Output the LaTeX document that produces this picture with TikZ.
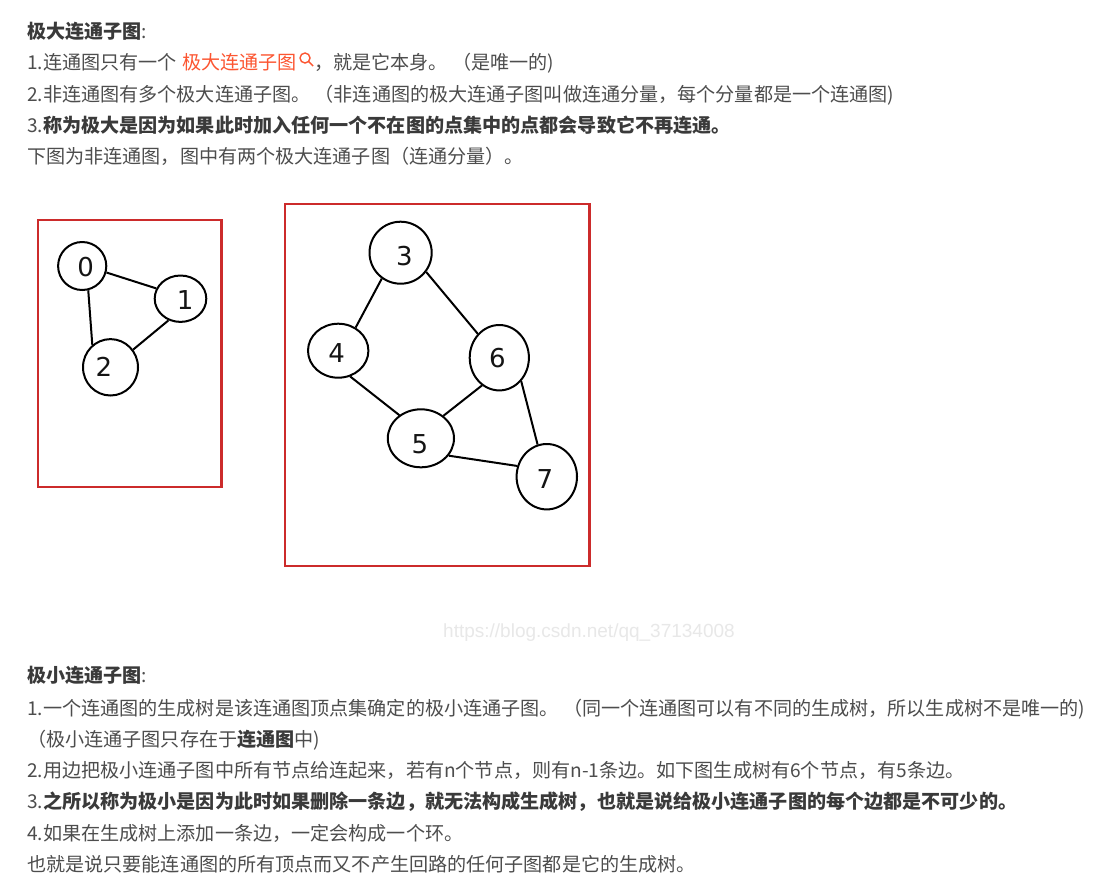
\documentclass[tikz,border=0pt]{standalone}
\usepackage{fontspec}
\setmainfont{Noto Sans CJK SC}
\newfontfamily\digitfont{DejaVu Sans}
\newfontfamily\wmfont{Liberation Sans}
\usetikzlibrary{shapes.geometric}
\definecolor{txt}{HTML}{4D4D4D}
\definecolor{boldtxt}{HTML}{3A3A3A}
\definecolor{linkred}{HTML}{FC5531}
\definecolor{boxred}{HTML}{CC2B2B}
\definecolor{wmgray}{HTML}{E8E8E8}
\newcommand\bt[1]{{\bfseries\color{boldtxt}#1}}
\begin{document}
\begin{tikzpicture}[x=1pt,y=-1pt]
\tikzset{
  txtline/.style={anchor=base west, inner sep=0pt, text=txt, font=\fontsize{19.1}{24}\selectfont},
  vtx/.style={ellipse, draw=black, line width=2pt, inner sep=0pt},
  num/.style={inner sep=0pt, anchor=center, text=black!92, font=\digitfont\fontsize{26}{30}\selectfont},
  link/.style={line width=2pt, draw=black},
  compbox/.style={draw=boxred, line width=2.5pt},
  iconline/.style={draw=linkred, line width=1.4pt}
}
\fill[white] (0,0) rectangle (1118,892);
\useasboundingbox (0,0) rectangle (1118,892);

% ---------- top text ----------
\node[txtline] (h1) at (27,38.5) {\bt{极大连通子图}:};
\node[txtline] (l1a) at (27,69.5) {1.连通图只有一个};
\node[txtline, text=linkred] (l1b) at ([xshift=5]l1a.base east) {极大连通子图};
\coordinate (ic) at ([shift={(8,-11.5)}]l1b.base east);
\draw[iconline] (ic) circle (5);
\draw[iconline] ([shift={(3.6,3.6)}]ic) -- ([shift={(8.2,8)}]ic);
\node[txtline] (l1c) at ([xshift=17]l1b.base east) {，就是它本身。 （是唯一的)};
\node[txtline] (l2) at (27,101) {2.非连通图有多个极大连通子图。 （非连通图的极大连通子图叫做连通分量，每个分量都是一个连通图)};
\node[txtline] (l3) at (27,132) {3.\bt{称为极大是因为如果此时加入任何一个不在图的点集中的点都会导致它不再连通。}};
\node[txtline] (l4) at (27,163) {下图为非连通图，图中有两个极大连通子图（连通分量）。};

% ---------- boxes ----------
\draw[compbox] (38,220) rectangle (221.7,487);
\draw[compbox] (285,204) rectangle (589.3,566);

% ---------- vertices ----------
\node[vtx, minimum width=48.2, minimum height=48] (n0) at (82.2,266) {};
\node[vtx, minimum width=51.6, minimum height=46.4] (n1) at (180.5,298.7) {};
\node[vtx, minimum width=55, minimum height=56.4] (n2) at (110.5,367.3) {};
\node[vtx, minimum width=62.2, minimum height=62] (n3) at (400.6,252.7) {};
\node[vtx, minimum width=60.4, minimum height=54] (n4) at (338.2,350.7) {};
\node[vtx, minimum width=59.2, minimum height=65.4] (n6) at (499.3,357.7) {};
\node[vtx, minimum width=66.2, minimum height=58] (n5) at (420.9,438.3) {};
\node[vtx, minimum width=60.4, minimum height=65.4] (n7) at (546.8,476.7) {};

\node[num] (d0) at ([shift={(3.4,0.7)}]n0.center) {0};
\node[num] (d1) at ([shift={(4.6,1.3)}]n1.center) {1};
\node[num] (d2) at ([shift={(-6.5,0)}]n2.center) {2};
\node[num] (d3) at ([shift={(3.8,3)}]n3.center) {3};
\node[num] (d4) at ([shift={(-1.5,2.7)}]n4.center) {4};
\node[num] (d6) at ([shift={(-1.9,0.7)}]n6.center) {6};
\node[num] (d5) at ([shift={(-1.1,5.7)}]n5.center) {5};
\node[num] (d7) at ([shift={(-1.9,2)}]n7.center) {7};

% ---------- edges ----------
\draw[link] (n0.-15) -- (n1.157);
\draw[link] (n0.-76) -- (n2.129);
\draw[link] (n1.-119) -- (n2.38);
\draw[link] (n3.-126) -- (n4.53);
\draw[link] (n3.-37) -- (n6.132);
\draw[link] (n4.-65) -- (n5.133);
\draw[link] (n6.-122) -- (n5.45);
\draw[link] (n6.-47) -- (n7.106);
\draw[link] (n5.-32) -- (n7.160);

% ---------- watermark ----------
\node[anchor=base west, inner sep=0pt, text=wmgray, font=\wmfont\fontsize{19}{22}\selectfont] (wm) at (443,637) {https://blog.csdn.net/qq\_37134008};

% ---------- bottom text ----------
\node[txtline] (h2) at (27,682) {\bt{极小连通子图}:};
\node[txtline] (m1) at (27,715) {1.一个连通图的生成树是该连通图顶点集确定的极小连通子图。 （同一个连通图可以有不同的生成树，所以生成树不是唯一的)};
\node[txtline] (m1b) at (27,746) {（极小连通子图只存在于\bt{连通图}中)};
\node[txtline] (m2) at (27,777) {2.用边把极小连通子图中所有节点给连起来，若有n个节点，则有n-1条边。如下图生成树有6个节点，有5条边。};
\node[txtline] (m3) at (27,808) {3.\bt{之所以称为极小是因为此时如果删除一条边，就无法构成生成树，也就是说给极小连通子图的每个边都是不可少的。}};
\node[txtline] (m4) at (27,840) {4.如果在生成树上添加一条边，一定会构成一个环。};
\node[txtline] (m5) at (27,871) {也就是说只要能连通图的所有顶点而又不产生回路的任何子图都是它的生成树。};
\end{tikzpicture}
\end{document}
